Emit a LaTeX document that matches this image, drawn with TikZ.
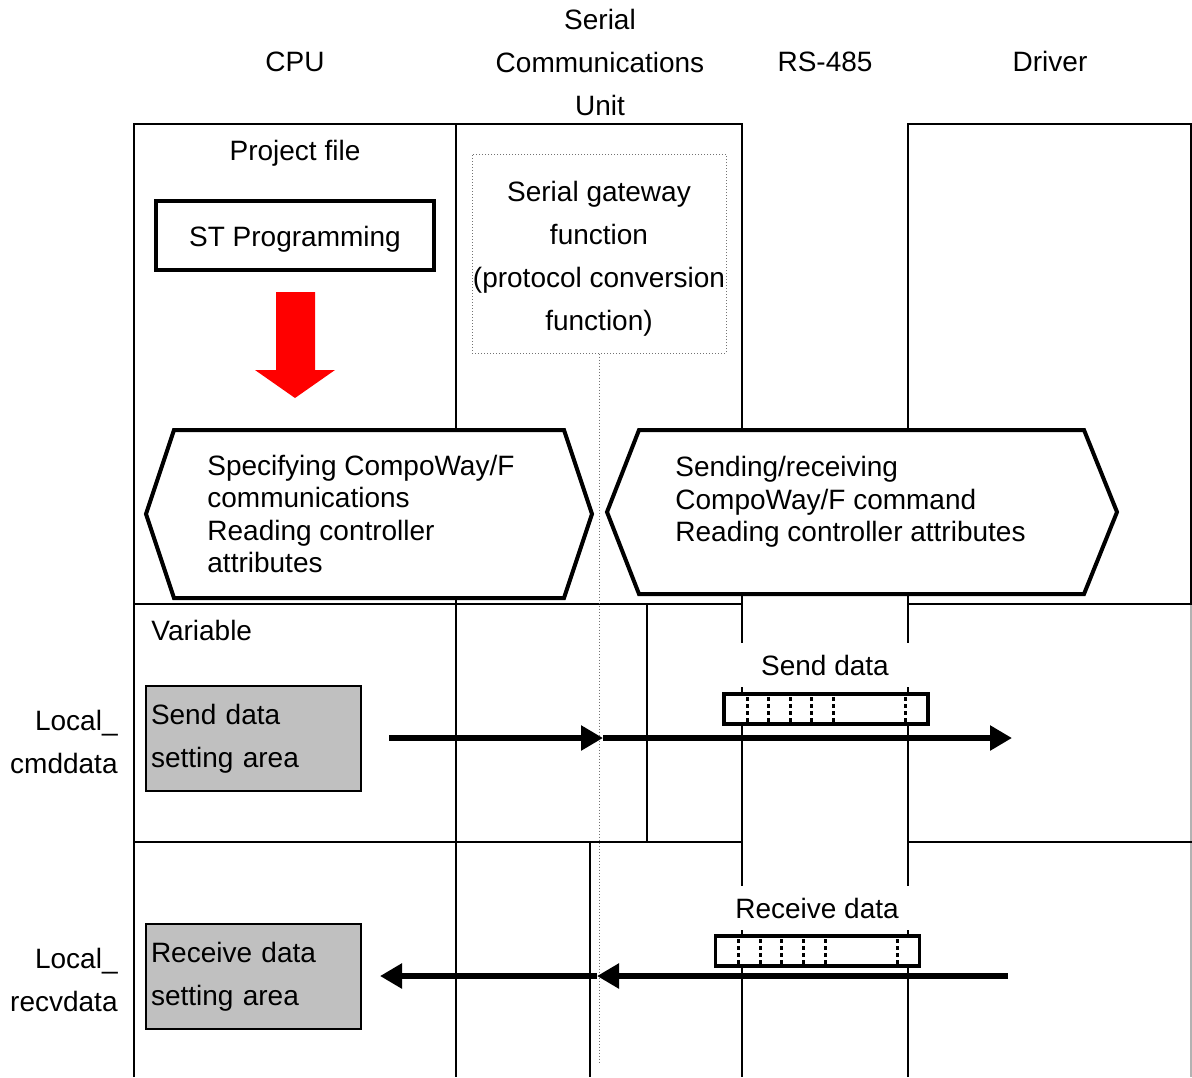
\documentclass[tikz,border=0pt]{standalone}
\usepackage{fontspec}
\setmainfont{Liberation Sans}
\usetikzlibrary{arrows.meta,positioning}
\definecolor{areagray}{RGB}{192,192,192}
\definecolor{signalred}{RGB}{255,0,0}

\begin{document}
\begin{tikzpicture}[x=0.5pt,y=-0.5pt,
        font=\fontsize{14}{21.5}\selectfont,
        lane/.style={line width=1pt},
        headtext/.style={align=center, inner sep=0pt},
        stbox/.style={draw, line width=2pt, minimum width=139pt, minimum height=34.5pt, inner sep=0pt},
        gateway/.style={draw=black!55, densely dotted, line width=0.5pt, minimum width=127pt, minimum height=99.5pt, inner sep=0pt},
        hexline/.style={draw, fill=white, line width=2pt, line join=miter},
        hexnote/.style={align=left, inner sep=0pt, anchor=west, font=\fontsize{14}{16.25}\selectfont},
        areabox/.style={draw, fill=areagray, line width=0.8pt, minimum height=52.5pt, text width=102.5pt, inner sep=2.5pt, align=left},
        datalabel/.style={fill=white, inner sep=0pt, minimum width=96pt, minimum height=22pt},
        slotframe/.style={draw, fill=white, line width=1.6pt, minimum width=102pt, minimum height=15pt, inner sep=0pt},
        slot/.style={line width=1.5pt, dash pattern=on 2pt off 1.5pt},
        flow/.style={line width=3.3pt, -{Triangle[length=11pt,width=12pt]}}]
    \useasboundingbox (0,0) rectangle (1192,1077);
    % lanes
    \draw[lane] (134,1077) -- (134,124) -- (742,124) -- (742,1077);
    \draw[lane] (456,124) -- (456,1077);
    \draw[lane] (908,1077) -- (908,124) -- (1191,124) -- (1191,604);
    \draw[gray!60, line width=0.6pt] (1191,604) -- (1191,1077);
    \draw[lane] (134,604) -- (742,604);
    \draw[lane] (908,604) -- (1192,604);
    \draw[lane] (647,604) -- (647,842);
    \draw[lane] (134,842) -- (742,842);
    \draw[lane] (908,842) -- (1192,842);
    \draw[lane] (590,842) -- (590,1077);
    % headings
    \node[headtext] (cpu)    at (295,62)  {CPU};
    \node[headtext] (scu)    at (600,62)  {Serial\\Communications\\Unit};
    \node[headtext] (rs485)  at (825,62)  {RS-485};
    \node[headtext] (driver) at (1050,61) {Driver};
    % project file
    \node[headtext] (project) at (295,153) {Project file};
    \node[stbox] (stprog) at (295,235.5) {};
    \node[headtext] (sttext) at (295,239) {ST Programming};
    \fill[signalred] (276,292) -- (315,292) -- (315,370) -- (335,370) -- (295,398) -- (255,370) -- (276,370) -- cycle;
    \node[gateway] (gateway) at (599,253.5) {};
    \node[headtext] (gwtext) at (599,259) {Serial gateway\\function\\(protocol conversion\\function)};
    \coordinate (gwend) at (599,1062);
    \draw[black!55, densely dotted, line width=0.5pt] (gateway.south) -- (gwend);
    % hexagons
    \draw[hexline] (146,514) -- (174,430) -- (564,430) -- (592,514) -- (564,598) -- (174,598) -- cycle;
    \node[hexnote] (specify) at (207,514) {Specifying CompoWay/F\\communications\\Reading controller\\attributes};
    \draw[hexline] (607,512) -- (639,430) -- (1084,430) -- (1117,512) -- (1084,594) -- (639,594) -- cycle;
    \node[hexnote] (sendrecv) at (675,502) {Sending/receiving\\CompoWay/F command\\Reading controller attributes};
    % variables
    \node[headtext, anchor=west] (variable) at (151,630) {Variable};
    \node[headtext, anchor=east, align=right] (cmdvar)  at (118,741.5) {Local\_\\cmddata};
    \node[headtext, anchor=east, align=right] (recvvar) at (118,979.5) {Local\_\\recvdata};
    \node[areabox] (sendarea) at (253.5,738.5) {Send data\\setting area};
    \node[areabox] (recvarea) at (253.5,976.5) {Receive data\\setting area};
    % frames on the line
    \node[datalabel] (sendlabel) at (825,665) {Send data};
    \node[slotframe] (sendframe) at (826,709) {};
    \foreach \x in {747,768,790,811,833,905}
        \draw[slot] (\x,697) -- (\x,722);
    \node[datalabel] (recvlabel) at (817,908) {Receive data};
    \node[slotframe] (recvframe) at (817.5,951) {};
    \foreach \x in {738,760,781,803,825,897}
        \draw[slot] (\x,939) -- (\x,964);
    % data flow
    \coordinate (cmdstart) at (389,738);
    \coordinate (cmdmid)   at (603,738);
    \coordinate (cmdend)   at (1012,738);
    \draw[flow] (cmdstart) -- (cmdmid);
    \draw[flow] (cmdmid) -- (cmdend);
    \coordinate (recvstart) at (1008,976);
    \coordinate (recvmid)   at (597,976);
    \coordinate (recvend)   at (380,976);
    \draw[flow] (recvstart) -- (recvmid);
    \draw[flow] (recvmid) -- (recvend);
\end{tikzpicture}
\end{document}
